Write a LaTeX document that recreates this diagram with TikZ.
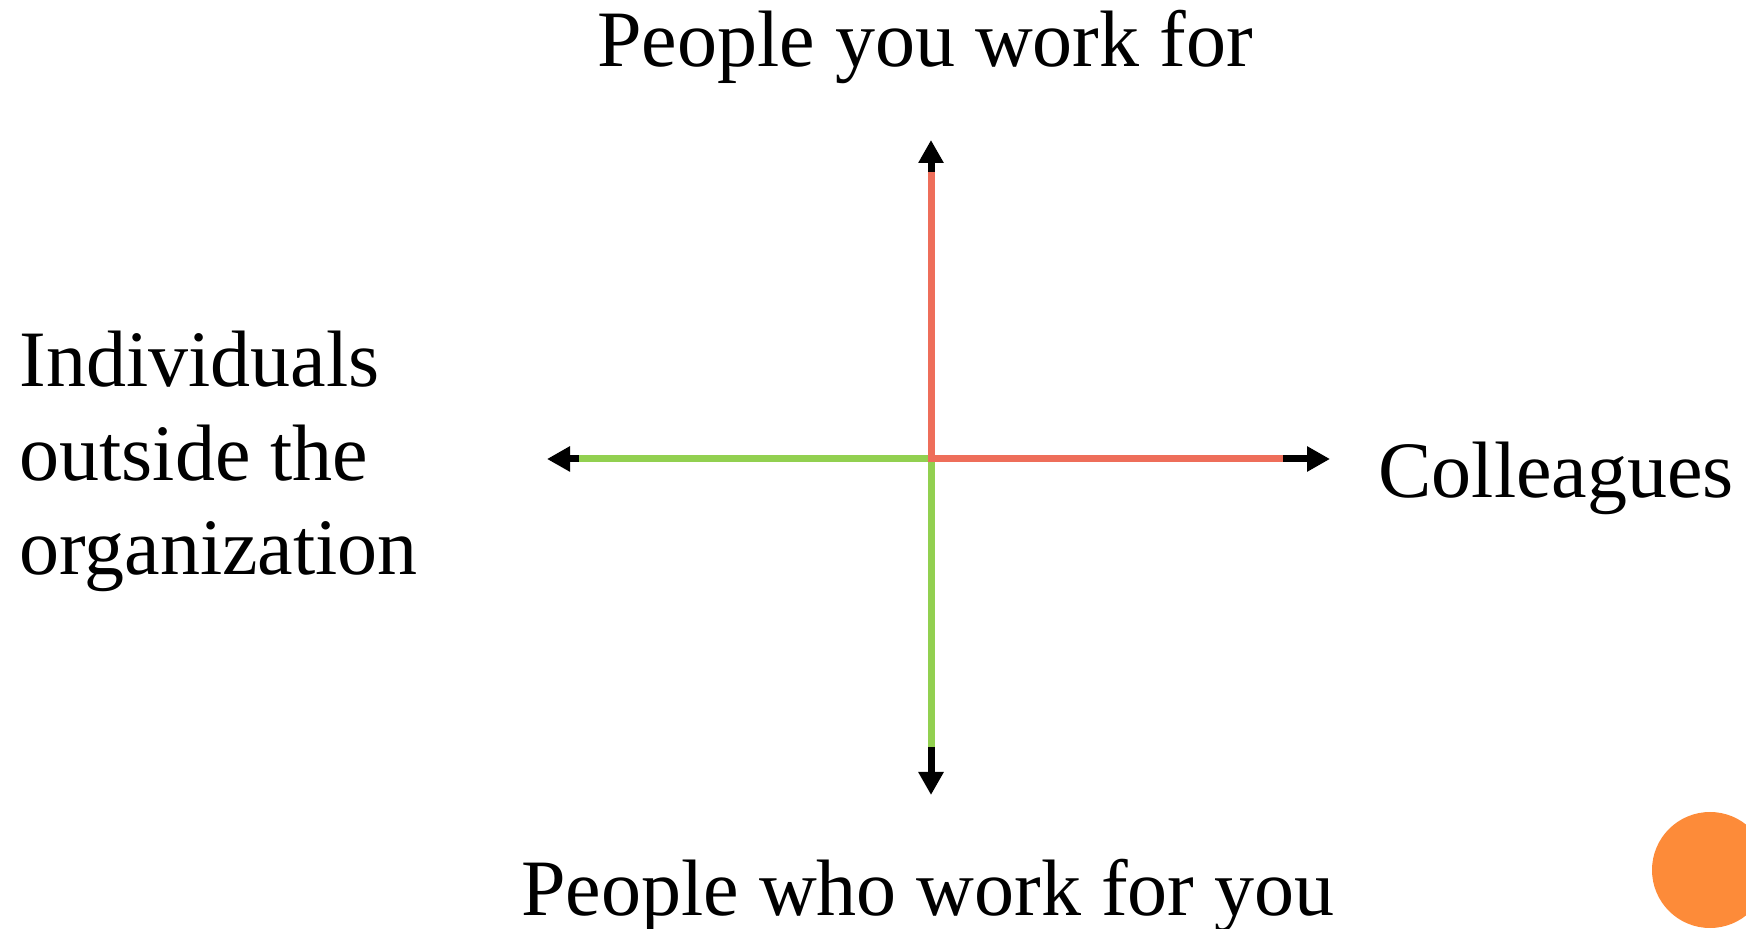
\documentclass[tikz,border=0pt]{standalone}
\usepackage{fontspec}
\setmainfont{Liberation Serif}
\usetikzlibrary{arrows.meta}

\definecolor{upRed}{RGB}{238,110,90}
\definecolor{downGreen}{RGB}{146,208,80}
\definecolor{dotOrange}{RGB}{253,139,57}

\begin{document}
\begin{tikzpicture}[
    x=0.5pt, y=-0.5pt,
    roleText/.style={inner sep=0pt, font=\fontsize{40}{47}\selectfont},
    axisArrow/.style={{Triangle[length=11.5pt, width=12pt]}-{Triangle[length=11.5pt, width=12pt]}, line width=3.5pt},
    roleLine/.style={line width=3.5pt, line join=miter},
]

\clip (0,0) rectangle (1746,929);

% Ends of the two axes
\coordinate (centre) at (931,459);
\coordinate (upTip) at (931,140);
\coordinate (downTip) at (931,795);
\coordinate (leftTip) at (547,459);
\coordinate (rightTip) at (1330,459);
\coordinate (redTop) at (931,172);
\coordinate (redEnd) at (1283,459);
\coordinate (greenStart) at (579,459);
\coordinate (greenEnd) at (931,747);

% Axes
\draw[axisArrow] (leftTip) -- (rightTip);
\draw[axisArrow] (downTip) -- (upTip);

% Coloured overlays
\draw[roleLine, downGreen] (greenStart) -- (centre) -- (greenEnd);
\draw[roleLine, upRed] (redTop) -- (centre) -- (redEnd);

% Labels
\node[roleText, anchor=base] (bossText) at (925,67) {People you work for};
\node[roleText, anchor=base] (staffText) at (928,915) {People who work for you};
\node[roleText, anchor=base west] (peerText) at (1378,498) {Colleagues};
\node[roleText, anchor=base west, align=left] (outsideText) at (19,575) {Individuals\\outside the\\organization};

% Corner dot
\node[circle, fill=dotOrange, minimum size=58pt, inner sep=0pt] (cornerDot) at (1710,870) {};

\end{tikzpicture}
\end{document}
